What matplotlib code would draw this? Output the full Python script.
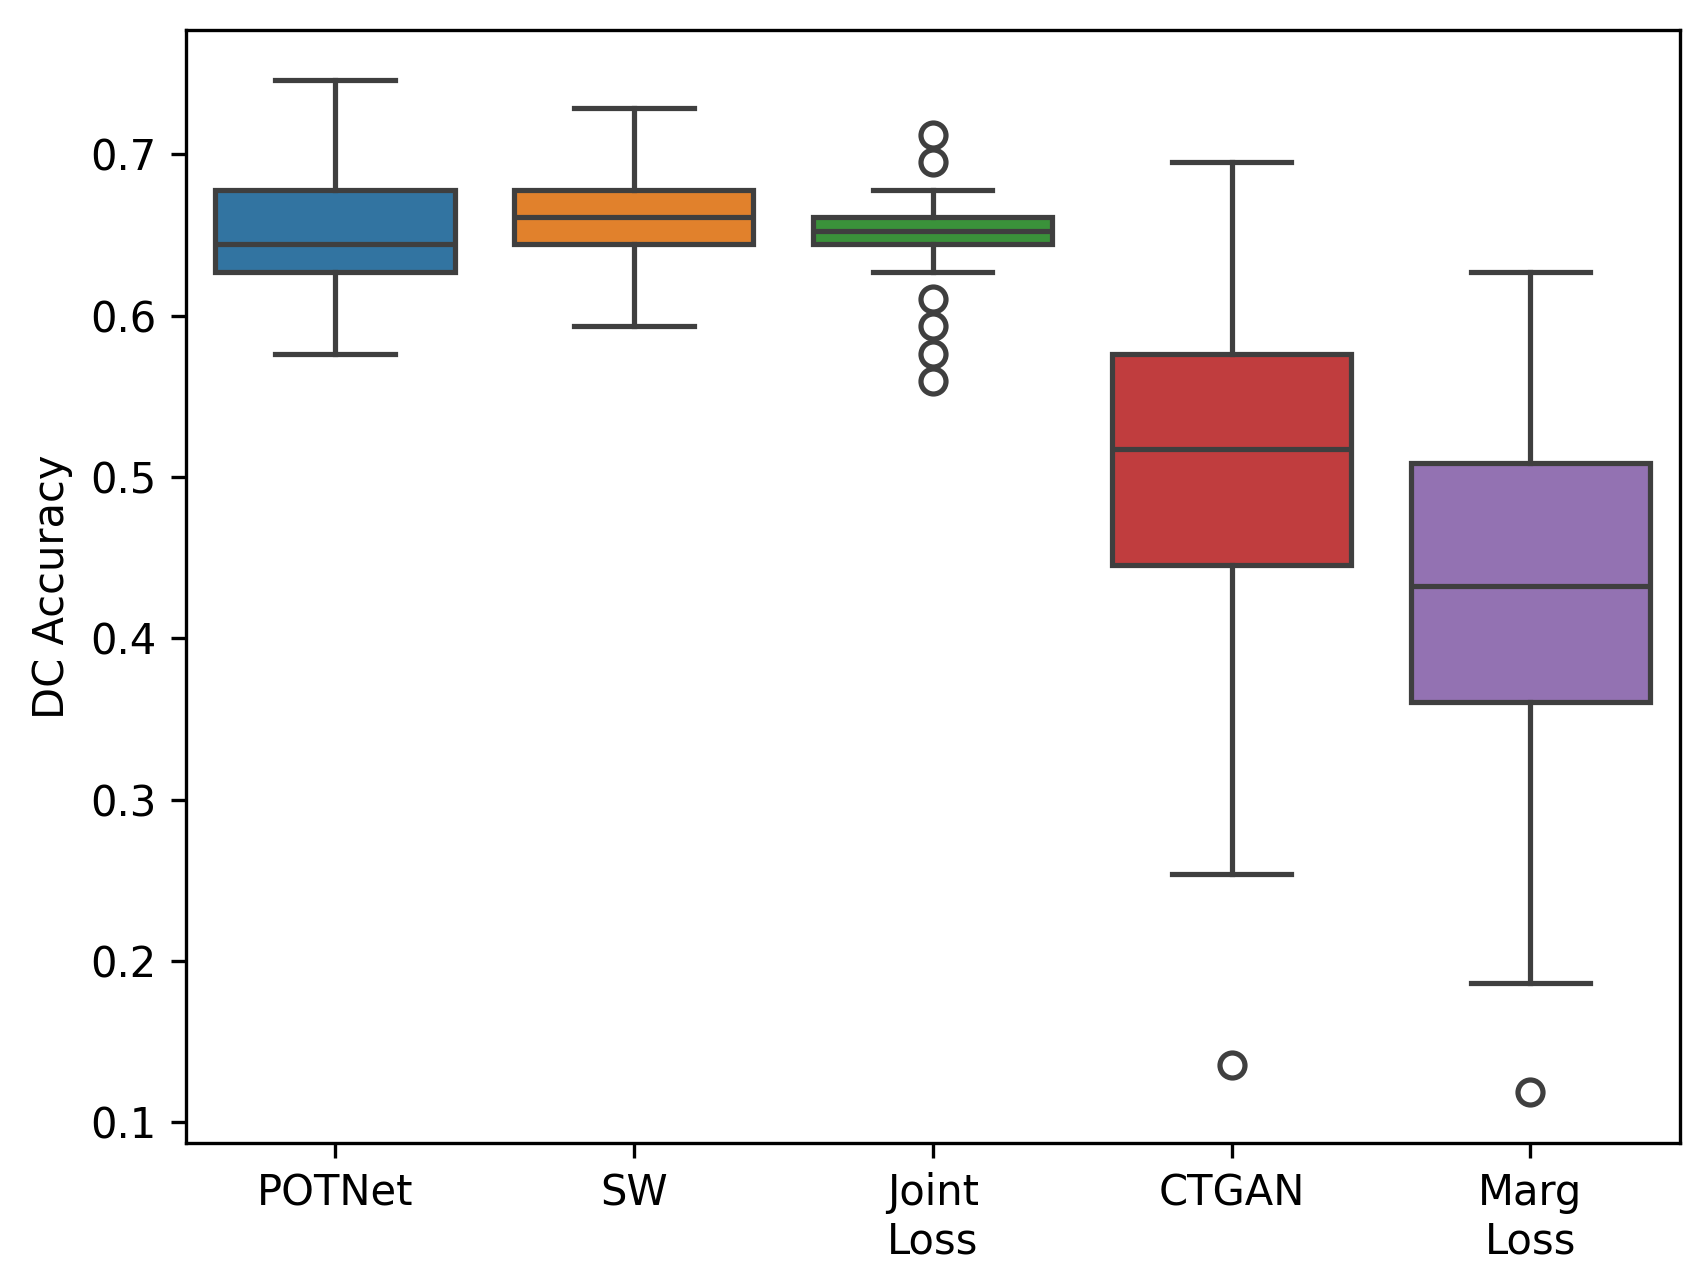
import numpy as np
import matplotlib
matplotlib.use('Agg')
import matplotlib.pyplot as plt

# box statistics
methods = ['POTNet', 'SW', 'Joint\nLoss', 'CTGAN', 'Marg\nLoss']
whislo = [0.5763, 0.5932, 0.6271, 0.2542, 0.1864]
q1 = [0.6271, 0.6441, 0.6441, 0.4456, 0.3602]
med = [0.6441, 0.6610, 0.6525, 0.5170, 0.4322]
q3 = [0.6780, 0.6780, 0.6610, 0.5763, 0.5085]
whishi = [0.7458, 0.7288, 0.6780, 0.6949, 0.6271]
fliers = [[], [], [0.7119, 0.6949, 0.6102, 0.5932, 0.5763, 0.5593], [0.1356], [0.1186]]

colors = ['#3274a1', '#e1812c', '#3a923a', '#c03d3e', '#9372b2']
gray = '#3f3f3f'

stats = []
for i in range(len(methods)):
    stats.append(dict(med=med[i], q1=q1[i], q3=q3[i], whislo=whislo[i],
                      whishi=whishi[i], fliers=fliers[i]))

fig = plt.figure(figsize=(1702 / 300, 1288 / 300), dpi=300)
ax = fig.add_axes([0.109, 0.1126, 0.878, 0.8644])

lw = 1.25
bp = ax.bxp(stats, positions=range(len(methods)), widths=0.8, capwidths=0.4,
            patch_artist=True,
            boxprops=dict(edgecolor=gray, linewidth=lw),
            medianprops=dict(color=gray, linewidth=lw),
            whiskerprops=dict(color=gray, linewidth=lw),
            capprops=dict(color=gray, linewidth=lw),
            flierprops=dict(marker='o', markerfacecolor='none', markeredgecolor=gray,
                            markersize=6, markeredgewidth=lw))
for box, c in zip(bp['boxes'], colors):
    box.set_facecolor(c)

ax.set_xlim(-0.5, len(methods) - 0.5)
lo = min(min(whislo), min(min(f) for f in fliers if f))
hi = max(whishi)
pad = (hi - lo) * 0.05
ax.set_ylim(lo - pad, hi + pad)
ax.set_xticks(range(len(methods)))
ax.set_xticklabels(methods)
ax.set_ylabel('DC Accuracy')

fig.savefig('out.png', dpi=300)
